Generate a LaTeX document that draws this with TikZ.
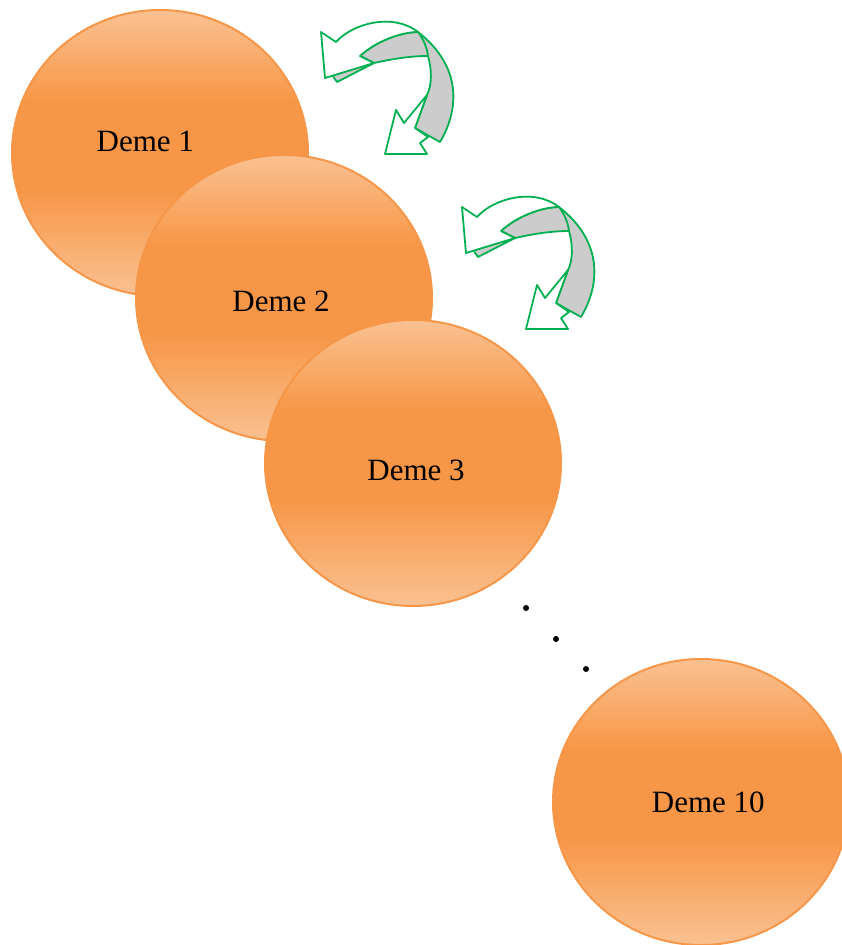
\documentclass[tikz,border=0pt]{standalone}
\usepackage{fontspec}
\setmainfont{Liberation Serif}
\usetikzlibrary{shapes.geometric}

\definecolor{demelight}{RGB}{250,193,145}
\definecolor{demedark}{RGB}{247,150,70}
\definecolor{demeedge}{RGB}{246,150,72}
\definecolor{migreen}{RGB}{0,176,80}
\definecolor{migray}{RGB}{204,204,204}

% light at top and bottom, solid orange band in the middle
\pgfdeclareverticalshading{demeshade}{100bp}{%
  color(0bp)=(demelight); color(25bp)=(demelight);
  color(44bp)=(demedark); color(59bp)=(demedark);
  color(75bp)=(demelight); color(100bp)=(demelight)}

\tikzset{
  deme/.style={ellipse, draw=demeedge, line width=2pt, shading=demeshade,
    minimum width=296pt, minimum height=286pt, inner sep=0pt},
  demelabel/.style={anchor=base, inner sep=0pt, font=\fontsize{31}{36}\selectfont},
  dotnode/.style={circle, fill=black, inner sep=0pt, minimum size=6pt},
  band/.style={draw=migreen, line width=1.8pt, line join=round, fill=migray},
  ribbon/.style={draw=migreen, line width=1.8pt, line join=round, fill=white},
  seam/.style={draw=migreen, line width=1.8pt},
  % twisted migration arrow pair
  migration/.pic={
    % grey underside of the band
    \path[band] (374,63) .. controls (392,59) and (410,56) .. (428,56)
      .. controls (432,70) and (432,85) .. (427,95) -- (415,128) -- (440,142)
      .. controls (458,112) and (464,68) .. (418,32)
      .. controls (400,32) and (375,42) .. (360,56) -- cycle;
    \path[band] (332,75) -- (337,82) -- (374,63) -- cycle;
    \path[seam] (418,32) .. controls (424,40) and (427,48) .. (428,56);
    % left-pointing head with the white top of the band
    \path[ribbon] (321,32) -- (336,42)
      .. controls (352,24) and (392,12) .. (418,32)
      .. controls (400,32) and (375,42) .. (360,56)
      -- (374,63) -- (325,78) -- cycle;
    % downward head
    \path[ribbon] (385,154) -- (396,110) -- (404,123) -- (427,95)
      -- (415,128) -- (428,137) -- (420,143) -- (427,154) -- cycle;
  }
}

\begin{document}
\begin{tikzpicture}[x=1pt, y=-1pt]
  \useasboundingbox (0,0) rectangle (842,945);
  \clip (0,0) rectangle (842,945);

  % demes, later ones overlapping earlier ones
  \node[deme] (d1) at (160,153) {};
  \node[deme] (d2) at (284,298) {};
  \node[deme] (d3) at (413,463) {};
  \node[deme] (d10) at (701,802) {};

  \node[demelabel] (l1) at (145.3,151.7) {Deme 1};
  \node[demelabel] (l2) at (281,311) {Deme 2};
  \node[demelabel] (l3) at (416,480) {Deme 3};
  \node[demelabel] (l10) at (708.3,812.3) {Deme 10};

  % ellipsis between deme 3 and deme 10
  \node[dotnode] (e1) at (526,608) {};
  \node[dotnode] (e2) at (556,639) {};
  \node[dotnode] (e3) at (586,669) {};

  % migration arrows
  \pic (m12) at (0,0) {migration};
  \pic (m23) at (141,175) {migration};
\end{tikzpicture}
\end{document}
